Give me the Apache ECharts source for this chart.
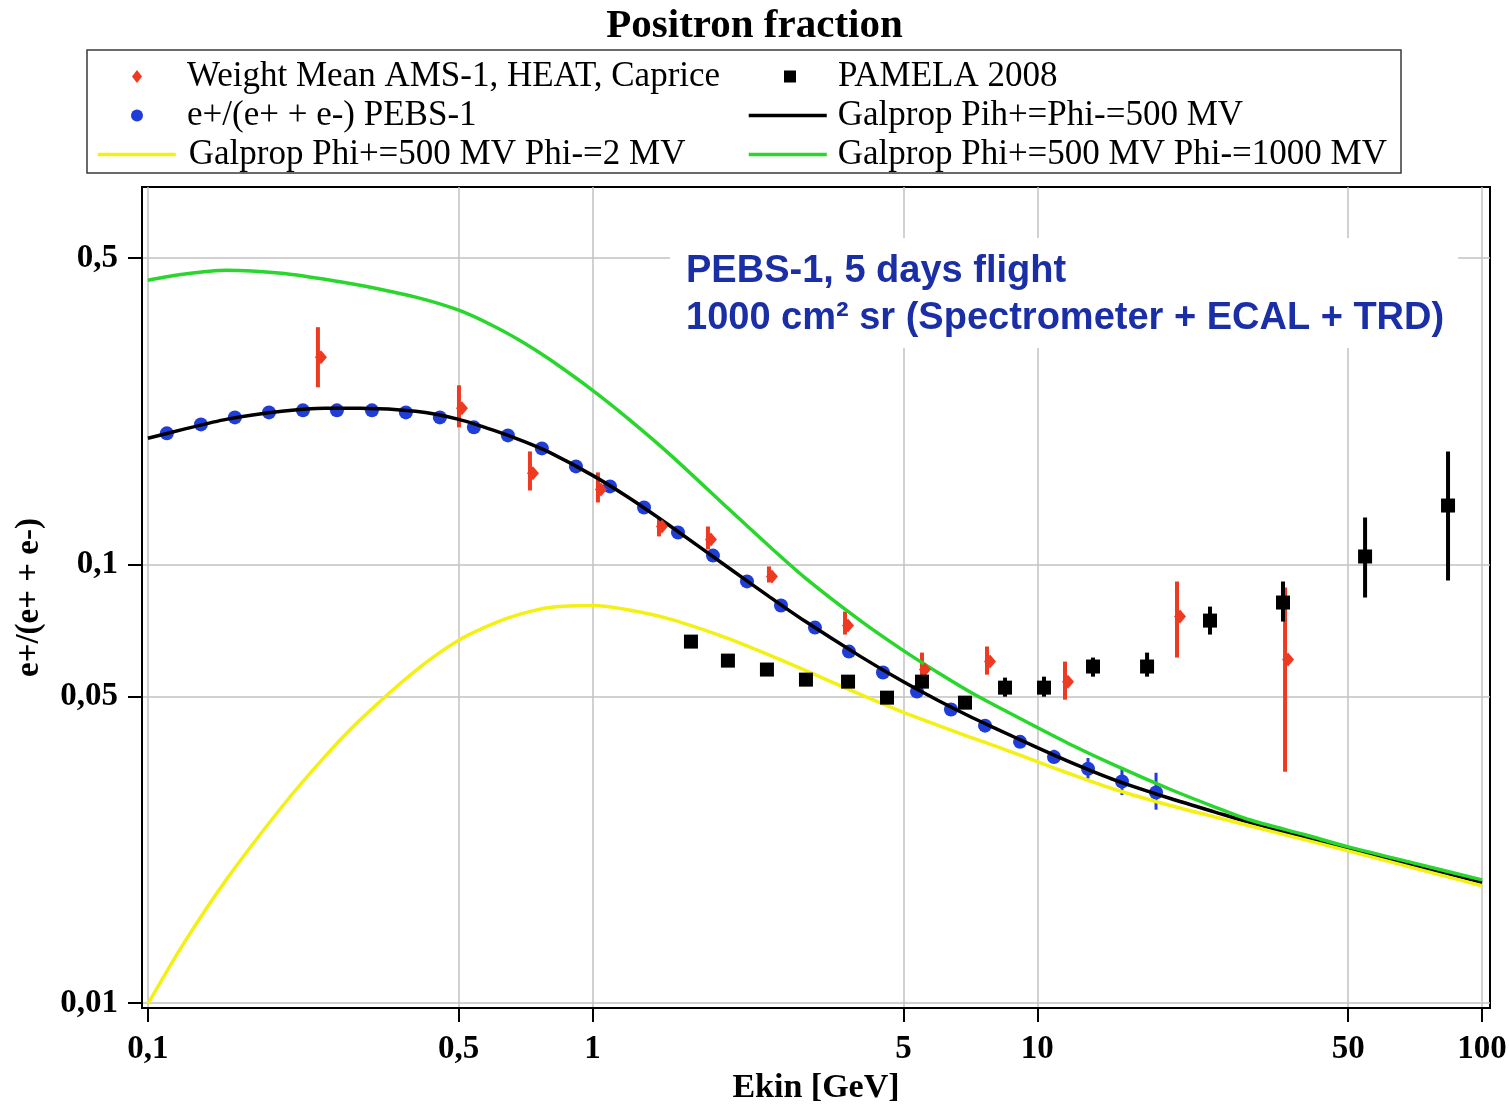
<!DOCTYPE html>
<html>
<head>
<meta charset="utf-8">
<title>Positron fraction</title>
<script src="https://cdn.jsdelivr.net/npm/echarts@6/dist/echarts.min.js"></script>
<style>
  html, body { margin: 0; padding: 0; background: #ffffff; }
  #chart { width: 1509px; height: 1104px; }
</style>
</head>
<body>
<div id="chart"></div>
<script>
// Axis tick positions
const xTicks = [0.1, 0.5, 1, 5, 10, 50, 100];
const yTicks = [0.01, 0.05, 0.1, 0.5];

// PEBS-1 expected positron fraction (5 days flight)
const pebsE = [0.1103, 0.1316, 0.1569, 0.1872, 0.2232, 0.2661, 0.3190, 0.3803, 0.4535, 0.5408,
               0.6449, 0.7690, 0.9173, 1.094, 1.305, 1.556, 1.865, 2.224, 2.652, 3.162,
               3.771, 4.497, 5.363, 6.395, 7.627, 9.143, 10.90, 13.00, 15.50, 18.49];
const pebsF = [0.1991, 0.2087, 0.2165, 0.2223, 0.2247, 0.2247, 0.2247, 0.2223, 0.2165, 0.2055,
               0.1970, 0.1840, 0.1674, 0.1507, 0.1349, 0.1183, 0.1048, 0.0915, 0.0806, 0.0718,
               0.0633, 0.0567, 0.0513, 0.0467, 0.0429, 0.0394, 0.0364, 0.0342, 0.0320, 0.0302];
const pebsLow = [null, null, null, null, null, null, null, null, null, null,
                 null, null, null, null, null, null, null, null, null, null,
                 null, null, null, null, null, null, 0.0353, 0.0325, 0.0298, 0.0276];
const pebsHigh = [null, null, null, null, null, null, null, null, null, null,
                  null, null, null, null, null, null, null, null, null, null,
                  null, null, null, null, null, null, 0.0378, 0.0362, 0.0345, 0.0335];

// Weighted mean of AMS-1, HEAT and Caprice
const wmE = [0.2412, 0.5006, 0.7230, 1.028, 1.410, 1.817, 2.492, 3.694, 5.503, 7.706, 11.54, 20.61, 36.06];
const wmF = [0.2970, 0.2271, 0.1614, 0.1483, 0.1221, 0.1141, 0.09389, 0.07257, 0.05760, 0.06006, 0.05406, 0.07607, 0.06069];
const wmLow = [0.2536, 0.2055, 0.1475, 0.1385, 0.1159, 0.1082, 0.0910, 0.06922, 0.05549, 0.05608, 0.04918, 0.06134, 0.03368];
const wmHigh = [0.3477, 0.2563, 0.1811, 0.1622, 0.1280, 0.1221, 0.0990, 0.07812, 0.06296, 0.06502, 0.06006, 0.09145, 0.08861];

// PAMELA 2008
const pamE = [1.664, 2.015, 2.466, 3.018, 3.753, 4.592, 5.503, 6.877, 8.460, 10.35, 13.34, 17.65, 24.45, 35.68, 54.57, 83.85];
const pamF = [0.06671, 0.06037, 0.05760, 0.05463, 0.05406, 0.04970, 0.05406, 0.04841, 0.05238, 0.05238,
              0.05852, 0.05852, 0.07449, 0.08190, 0.1043, 0.1363];
const pamLow = [null, null, null, null, null, null, null, null, 0.04995, 0.04995,
                0.05549, 0.05549, 0.06922, 0.07411, 0.08408, 0.09194];
const pamHigh = [null, null, null, null, null, null, null, null, 0.05521, 0.05549,
                 0.06134, 0.06296, 0.08017, 0.09145, 0.1280, 0.1811];

// Galprop model curves
const curveE = [0.1, 0.12, 0.15, 0.2, 0.25, 0.3, 0.4, 0.5, 0.6, 0.7, 0.8,
                1, 1.2, 1.5, 2, 2.5, 3, 4, 5, 6, 7, 8,
                10, 12, 15, 20, 25, 30, 40, 50, 70, 100];
const galpropEqual = [0.1940, 0.2033, 0.2143, 0.2235, 0.2271, 0.2271, 0.2235, 0.2143, 0.2022, 0.1909, 0.1802,
                      0.1597, 0.1425, 0.1221, 0.0991, 0.08438, 0.07430, 0.06173, 0.05400, 0.04890, 0.04519, 0.04242,
                      0.03823, 0.03524, 0.03219, 0.02922, 0.02729, 0.02581, 0.02387, 0.02250, 0.02063, 0.01884];
const galpropPhi2 = [0.00995, 0.01360, 0.01909, 0.02799, 0.03646, 0.04422, 0.05730, 0.06721, 0.07342, 0.07745, 0.07982,
                     0.08061, 0.07885, 0.07499, 0.06806, 0.06216, 0.05742, 0.05055, 0.04600, 0.0429, 0.04049, 0.03862,
                     0.03550, 0.03315, 0.03064, 0.02817, 0.02659, 0.02536, 0.02355, 0.02223, 0.02033, 0.01850];
const galpropPhi1000 = [0.4451, 0.4593, 0.4690, 0.4618, 0.4474, 0.4335, 0.4071, 0.3801, 0.3495, 0.3205, 0.2938,
                        0.2496, 0.2154, 0.1774, 0.1353, 0.1099, 0.09339, 0.07449, 0.06363, 0.05655, 0.05145, 0.04780,
                        0.04249, 0.03866, 0.03477, 0.03064, 0.02802, 0.02617, 0.02419, 0.02270, 0.02087, 0.01909];

// Legend labels
const NAME_WM = 'Weight Mean AMS-1, HEAT, Caprice';
const NAME_PEBS = 'e+/(e+ + e-) PEBS-1';
const NAME_PHI2 = 'Galprop Phi+=500 MV Phi-=2 MV';
const NAME_PAM = 'PAMELA 2008';
const NAME_EQ = 'Galprop Pih+=Phi-=500 MV';
const NAME_PHI1000 = 'Galprop Phi+=500 MV Phi-=1000 MV';

const SERIF = '"Liberation Serif", "Times New Roman", serif';
const SANS = '"Liberation Sans", Arial, sans-serif';

const RED = '#ef3a22';
const BLUE = '#1f3dd8';
const YELLOW = '#f4f014';
const GREEN = '#29d62c';

const pairs = (xs, ys) => xs.map((x, i) => [x, ys[i]]);

function errorBars(name, xs, lows, highs, color, width) {
  const data = [];
  xs.forEach((x, i) => {
    if (lows[i] != null && highs[i] != null) data.push([x, lows[i], highs[i]]);
  });
  return {
    type: 'custom',
    name: name,
    data: data,
    encode: { x: 0, y: [1, 2] },
    silent: true,
    renderItem: function (params, api) {
      const a = api.coord([api.value(0), api.value(1)]);
      const b = api.coord([api.value(0), api.value(2)]);
      return {
        type: 'line',
        shape: { x1: a[0], y1: a[1], x2: b[0], y2: b[1] },
        style: { stroke: color, lineWidth: width }
      };
    }
  };
}

// One legend entry, placed on its own so the two columns line up
function legendEntry(name, left, top, iconW, iconH, textPad, isLine) {
  const entry = {
    orient: 'horizontal',
    left: left,
    top: top,
    padding: 0,
    itemWidth: iconW,
    itemHeight: iconH,
    selectedMode: false,
    textStyle: { fontFamily: SERIF, fontSize: 35, color: '#000', lineHeight: 35, padding: [0, 0, 0, textPad] },
    data: [name]
  };
  if (isLine) {
    entry.itemStyle = { opacity: 0 };
    entry.lineStyle = { width: 3.5 };
  } else {
    entry.itemStyle = { opacity: 1 };
  }
  return entry;
}

const fmt = v => String(+Number(v).toPrecision(4)).replace('.', ',');

const chart = echarts.init(document.getElementById('chart'), null, { renderer: 'canvas' });

const option = {
  backgroundColor: '#ffffff',
  animation: false,
  title: {
    text: 'Positron fraction',
    left: 'center',
    top: 1,
    textStyle: { fontFamily: SERIF, fontWeight: 'bold', fontSize: 41, color: '#000' }
  },
  legend: [
    legendEntry(NAME_WM, 132, 59, 10, 13, 40, false),
    legendEntry(NAME_PEBS, 131, 98, 12, 12, 39, false),
    legendEntry(NAME_PHI2, 96, 137, 78, 13, 8, true),
    legendEntry(NAME_PAM, 784, 59, 12, 12, 37, false),
    legendEntry(NAME_EQ, 747, 98, 78, 13, 6, true),
    legendEntry(NAME_PHI1000, 747, 137, 78, 13, 6, true)
  ],
  grid: {
    left: 142,
    top: 187,
    width: 1348,
    height: 821,
    show: true,
    borderColor: '#000',
    borderWidth: 2,
    containLabel: false,
    outerBoundsMode: 'none'
  },
  xAxis: {
    type: 'log',
    logBase: 10,
    min: 0.097,
    max: 104.2,
    name: 'Ekin [GeV]',
    nameLocation: 'middle',
    nameGap: 59,
    nameTextStyle: { fontFamily: SERIF, fontWeight: 'bold', fontSize: 34, color: '#000' },
    axisLine: { show: true, lineStyle: { color: '#000', width: 2 } },
    axisTick: { show: true, customValues: xTicks, length: 14, lineStyle: { color: '#000', width: 2 } },
    axisLabel: {
      customValues: xTicks,
      margin: 25,
      formatter: fmt,
      fontFamily: SERIF, fontWeight: 'bold', fontSize: 33, color: '#000'
    },
    splitLine: { show: true, lineStyle: { color: '#c2c2c2', width: 1.5 } },
    minorTick: { show: false },
    minorSplitLine: { show: false }
  },
  yAxis: {
    type: 'log',
    logBase: 10,
    min: 0.00974,
    max: 0.726,
    name: 'e+/(e+ + e-)',
    nameLocation: 'middle',
    nameGap: 96,
    nameTextStyle: { fontFamily: SERIF, fontWeight: 'bold', fontSize: 33, color: '#000' },
    axisLine: { show: true, lineStyle: { color: '#000', width: 2 } },
    axisTick: { show: true, customValues: yTicks, length: 14, lineStyle: { color: '#000', width: 2 } },
    axisLabel: {
      customValues: yTicks,
      margin: 24,
      formatter: fmt,
      fontFamily: SERIF, fontWeight: 'bold', fontSize: 33, color: '#000'
    },
    splitLine: { show: true, lineStyle: { color: '#c2c2c2', width: 1.5 } },
    minorTick: { show: false },
    minorSplitLine: { show: false }
  },
  graphic: [
    {
      type: 'rect',
      shape: { x: 87, y: 50, width: 1314, height: 123 },
      style: { fill: 'none', stroke: '#3a3a3a', lineWidth: 1.5 },
      z: 10
    },
    {
      type: 'text',
      left: 670,
      top: 238,
      z: 10,
      style: {
        text: 'PEBS-1, 5 days flight\n1000 cm² sr (Spectrometer + ECAL + TRD)',
        font: 'bold 38px ' + SANS,
        fill: '#1a2ea6',
        lineHeight: 47,
        backgroundColor: '#ffffff',
        padding: [10, 14, 6, 16]
      }
    }
  ],
  series: [
    {
      type: 'scatter',
      name: NAME_PEBS,
      data: pairs(pebsE, pebsF),
      symbol: 'circle',
      symbolSize: 14,
      itemStyle: { color: BLUE, opacity: 1 },
      z: 2
    },
    errorBars('PEBS-1 error', pebsE, pebsLow, pebsHigh, BLUE, 3),
    {
      type: 'line',
      name: NAME_EQ,
      data: pairs(curveE, galpropEqual),
      showSymbol: false,
      symbol: 'none',
      smooth: 0.25,
      lineStyle: { color: '#000', width: 3.5 },
      itemStyle: { color: '#000' },
      z: 3
    },
    {
      type: 'line',
      name: NAME_PHI2,
      data: pairs(curveE, galpropPhi2),
      showSymbol: false,
      symbol: 'none',
      smooth: 0.25,
      lineStyle: { color: YELLOW, width: 3.5 },
      itemStyle: { color: YELLOW },
      z: 3
    },
    {
      type: 'line',
      name: NAME_PHI1000,
      data: pairs(curveE, galpropPhi1000),
      showSymbol: false,
      symbol: 'none',
      smooth: 0.25,
      lineStyle: { color: GREEN, width: 3.5 },
      itemStyle: { color: GREEN },
      z: 3
    },
    errorBars('Weight Mean error', wmE, wmLow, wmHigh, RED, 4),
    {
      type: 'scatter',
      name: NAME_WM,
      data: pairs(wmE, wmF),
      symbol: 'diamond',
      symbolSize: [12, 14],
      symbolOffset: [3, 0],
      itemStyle: { color: RED, opacity: 1 },
      z: 4
    },
    errorBars('PAMELA error', pamE, pamLow, pamHigh, '#000', 4),
    {
      type: 'scatter',
      name: NAME_PAM,
      data: pairs(pamE, pamF),
      symbol: 'rect',
      symbolSize: 14,
      itemStyle: { color: '#000', opacity: 1 },
      z: 5
    }
  ]
};

chart.setOption(option);
</script>
</body>
</html>
